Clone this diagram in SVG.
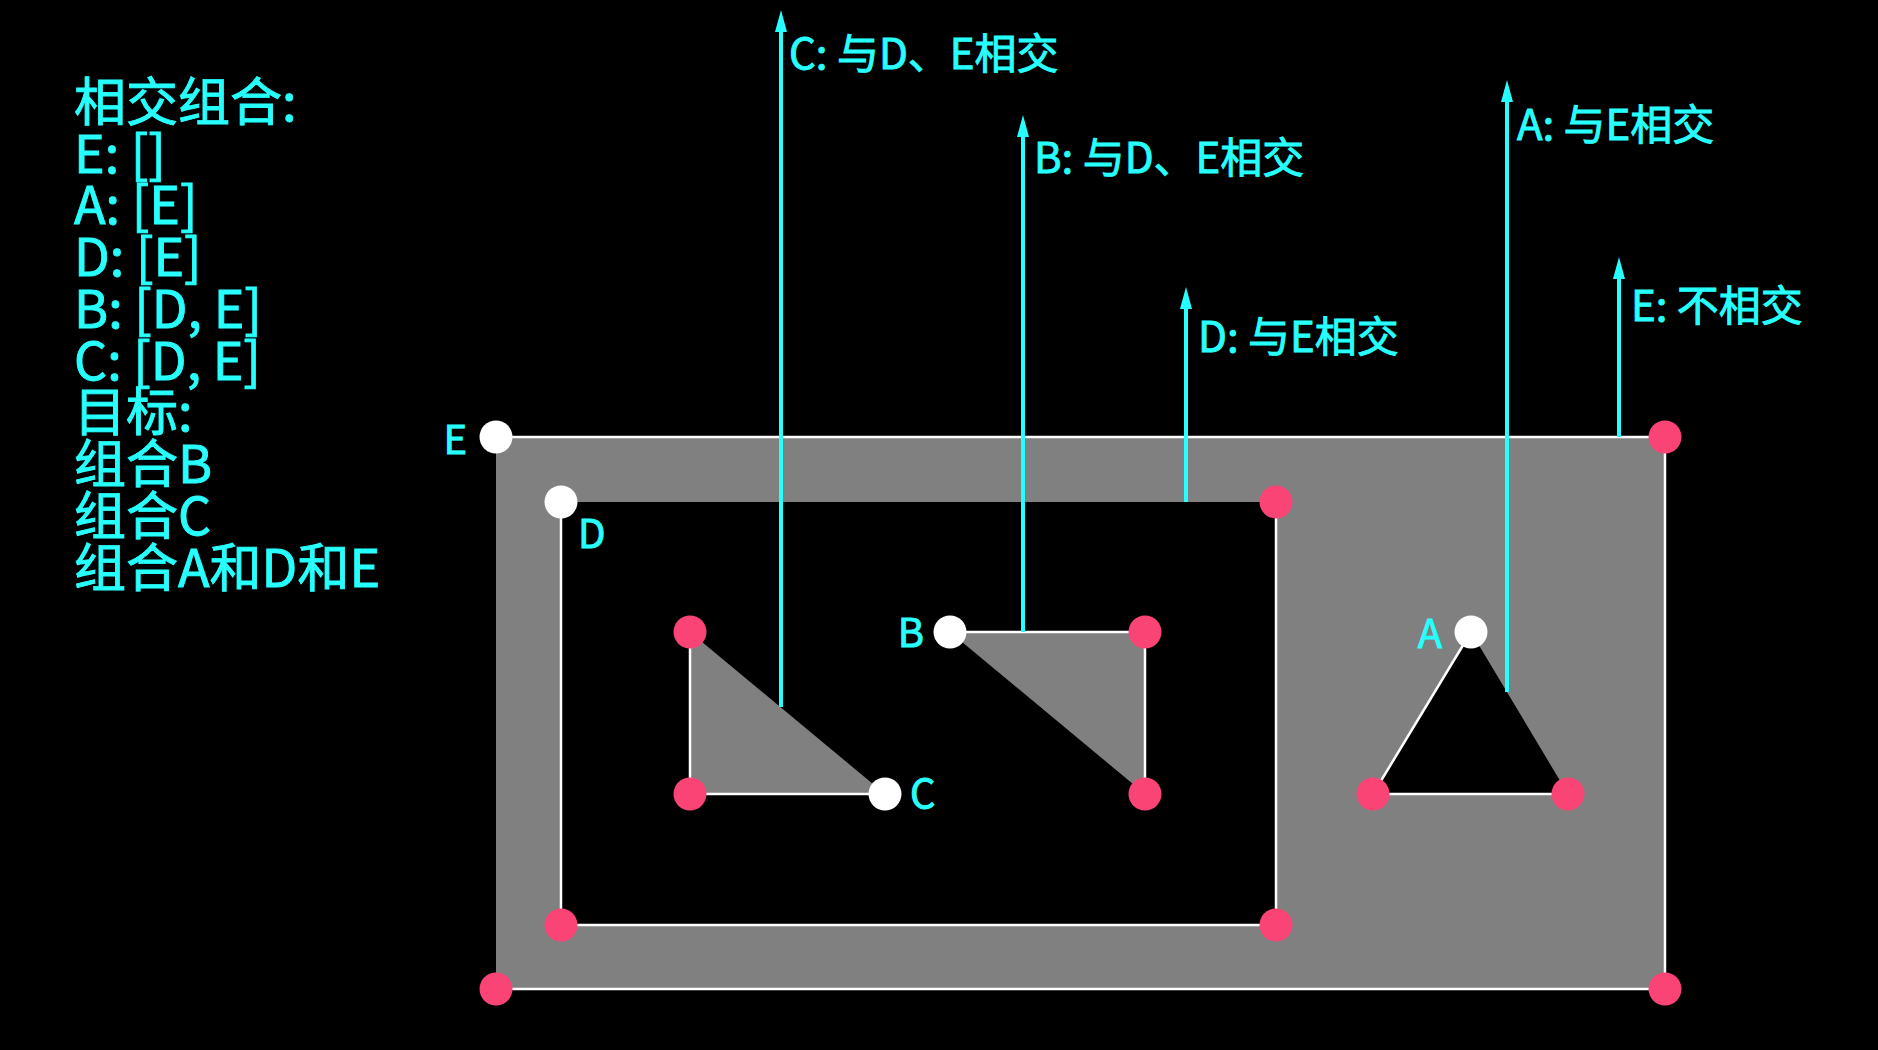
<svg xmlns="http://www.w3.org/2000/svg" width="1878" height="1050" viewBox="0 0 1878 1050">
<style>
.t{font-family:"Noto Sans CJK SC","Noto Sans",sans-serif;fill:#27FFFF;stroke:#27FFFF;stroke-width:0.9;paint-order:stroke}
.big{font-size:52px}
.lab{font-size:42px}
.vl{font-size:40px}
.fill{fill:#808080;stroke:none}
.edge{fill:none;stroke:#FFFFFF;stroke-width:2.5;stroke-linejoin:round}
.start{fill:#FFFFFF}
.pt{fill:#FA4476}
.ray{stroke:#27FFFF;stroke-width:4;fill:none}
.head{fill:#27FFFF}
</style>
<defs>
<marker id="ah" markerUnits="userSpaceOnUse" markerWidth="24" markerHeight="14" viewBox="0 -7 24 14" refX="0" refY="0" orient="auto">
<path class="head" d="M0,-6 L22,0 L0,6 Z"/>
</marker>
</defs>
<rect width="1878" height="1050" fill="#000000"/>

<g id="legend" class="t big">
<text x="74" y="121">相交组合:</text>
<text x="74" y="173">E: []</text>
<text x="74" y="224">A: [E]</text>
<text x="74" y="276">D: [E]</text>
<text x="74" y="328">B: [D, E]</text>
<text x="74" y="380">C: [D, E]</text>
<text x="74" y="431">目标:</text>
<text x="74" y="483">组合B</text>
<text x="74" y="535">组合C</text>
<text x="74" y="587">组合A和D和E</text>
</g>

<g id="node-E">
<path class="fill" fill-rule="evenodd" d="M496,437 H1665 V989 H496 Z M561,502 V925 H1276 V502 Z M1471,632 L1373,794 H1568 Z"/>
<polyline class="edge" points="496,437 1665,437 1665,989 496,989"/>
</g>
<g id="node-D">
<polyline class="edge" points="561,502 561,925 1276,925 1276,502"/>
</g>
<g id="node-C">
<path class="fill" d="M885,794 L690,794 L690,632 Z"/>
<polyline class="edge" points="885,794 690,794 690,632"/>
</g>
<g id="node-B">
<path class="fill" d="M950,632 L1145,632 L1145,794 Z"/>
<polyline class="edge" points="950,632 1145,632 1145,794"/>
</g>
<g id="node-A">
<polyline class="edge" points="1471,632 1373,794 1568,794"/>
</g>

<g id="connectors">
<line class="ray" x1="781" y1="707" x2="781" y2="32" marker-end="url(#ah)"/>
<line class="ray" x1="1023" y1="632" x2="1023" y2="137" marker-end="url(#ah)"/>
<line class="ray" x1="1186" y1="502" x2="1186" y2="309" marker-end="url(#ah)"/>
<line class="ray" x1="1507" y1="692" x2="1507" y2="102" marker-end="url(#ah)"/>
<line class="ray" x1="1619" y1="437" x2="1619" y2="279" marker-end="url(#ah)"/>
</g>

<g id="vertices">
<circle class="start" cx="496" cy="437" r="16.5"/>
<circle class="pt" cx="1665" cy="437" r="16.5"/>
<circle class="pt" cx="1665" cy="989" r="16.5"/>
<circle class="pt" cx="496" cy="989" r="16.5"/>
<circle class="start" cx="561" cy="502" r="16.5"/>
<circle class="pt" cx="561" cy="925" r="16.5"/>
<circle class="pt" cx="1276" cy="925" r="16.5"/>
<circle class="pt" cx="1276" cy="502" r="16.5"/>
<circle class="start" cx="885" cy="794" r="16.5"/>
<circle class="pt" cx="690" cy="794" r="16.5"/>
<circle class="pt" cx="690" cy="632" r="16.5"/>
<circle class="start" cx="950" cy="632" r="16.5"/>
<circle class="pt" cx="1145" cy="632" r="16.5"/>
<circle class="pt" cx="1145" cy="794" r="16.5"/>
<circle class="start" cx="1471" cy="632" r="16.5"/>
<circle class="pt" cx="1373" cy="794" r="16.5"/>
<circle class="pt" cx="1568" cy="794" r="16.5"/>
</g>

<g id="labels" class="t">
<text class="vl" x="467" y="454" text-anchor="end">E</text>
<text class="vl" x="578" y="548">D</text>
<text class="vl" x="924" y="647" text-anchor="end">B</text>
<text class="vl" x="910" y="808">C</text>
<text class="vl" x="1442" y="648" text-anchor="end">A</text>
<text class="lab" x="789" y="69">C: 与D、E相交</text>
<text class="lab" x="1034" y="173">B: 与D、E相交</text>
<text class="lab" x="1198" y="352">D: 与E相交</text>
<text class="lab" x="1517" y="140">A: 与E相交</text>
<text class="lab" x="1631" y="321">E: 不相交</text>
</g>
</svg>
